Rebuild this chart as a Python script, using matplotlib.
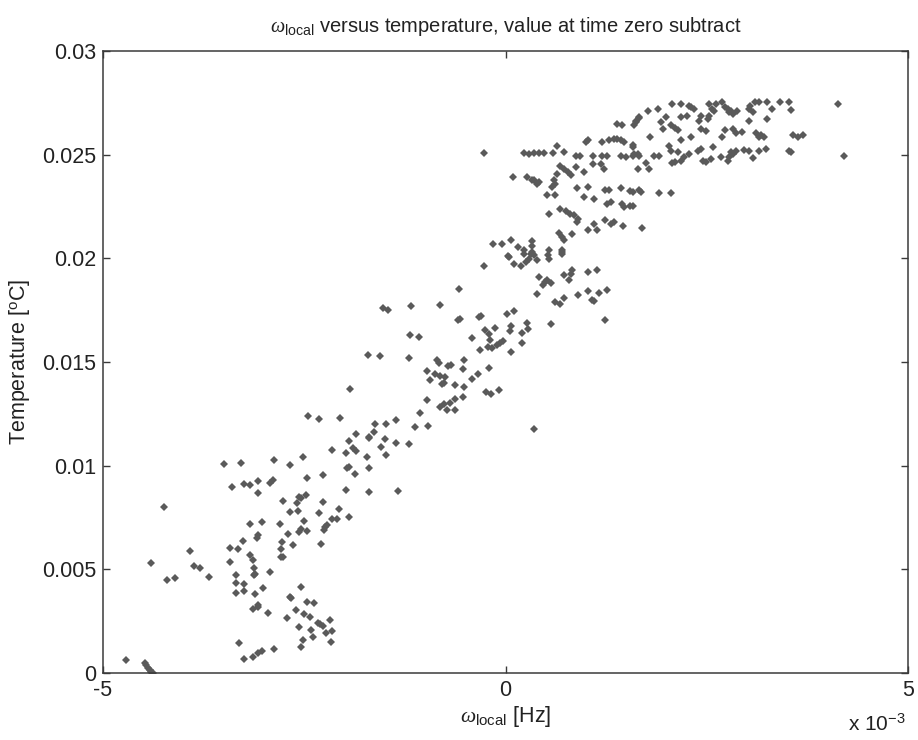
import matplotlib.pyplot as plt
from matplotlib.ticker import FuncFormatter

# values: (omega_local in 1e-3 Hz, temperature in 1e-3 degC)
low_cluster = [
    (-4.71, 0.61), (-4.48, 0.50), (-4.46, 0.38), (-4.44, 0.25), (-4.42, 0.15), (-4.40, 0.05), (-4.38, 0.0),
    (-4.24, 8.01), (-4.40, 5.29), (-4.21, 4.48), (-4.10, 4.56), (-3.92, 5.90), (-3.87, 5.16), (-3.79, 5.08),
    (-3.68, 4.64), (-3.50, 10.10), (-3.28, 10.14), (-3.40, 8.98), (-3.25, 9.11), (-3.17, 9.06), (-3.07, 9.25),
    (-3.07, 8.66), (-2.92, 9.17), (-2.89, 9.33), (-2.88, 10.27), (-2.68, 10.04), (-2.47, 9.43), (-2.27, 9.56),
    (-1.97, 9.87), (-1.95, 9.92), (-1.87, 9.62), (-1.70, 8.74), (-1.98, 8.85), (-2.76, 8.30), (-2.59, 8.21),
    (-2.57, 8.47), (-2.54, 8.45), (-2.48, 8.58), (-2.68, 7.77), (-2.58, 7.82), (-2.27, 8.23), (-2.07, 7.90),
    (-2.32, 7.70), (-2.16, 7.41), (-2.09, 7.41), (-1.95, 7.53), (-2.50, 7.34), (-2.80, 7.21), (-3.17, 7.17),
    (-3.02, 7.29), (-3.09, 6.52), (-3.07, 6.64), (-3.42, 6.01), (-3.32, 5.96), (-3.26, 6.36), (-3.42, 5.36),
    (-3.18, 5.69), (-3.14, 5.45), (-3.12, 5.05), (-3.11, 4.80), (-3.12, 4.72), (-2.93, 4.88), (-2.79, 5.96),
    (-2.76, 5.61), (-2.79, 5.58), (-2.78, 6.33), (-2.70, 6.70), (-2.64, 6.17), (-2.56, 6.81), (-2.54, 6.97),
    (-2.47, 6.84), (-2.29, 6.22), (-2.26, 6.89), (-2.24, 7.05), (-2.22, 7.13), (-3.35, 4.72), (-3.35, 4.35),
    (-3.25, 4.29), (-3.35, 3.87), (-3.25, 3.95), (-3.11, 3.79), (-3.01, 4.08), (-3.14, 3.08), (-3.08, 3.28),
    (-3.07, 3.17), (-2.95, 2.88), (-2.68, 3.68), (-2.66, 3.60), (-2.54, 4.16), (-2.60, 3.04), (-2.71, 2.64),
    (-2.50, 2.83), (-2.43, 2.71), (-2.47, 3.44), (-2.38, 3.36), (-2.56, 2.23), (-2.42, 2.07), (-2.39, 1.75),
    (-2.51, 1.59), (-2.54, 1.27), (-2.33, 2.42), (-2.30, 2.36), (-2.27, 2.28), (-2.18, 2.55), (-2.23, 1.91),
    (-2.16, 2.02), (-2.17, 1.48), (-3.31, 1.43), (-3.25, 0.66), (-3.14, 0.79), (-3.07, 0.98), (-3.03, 1.07),
    (-2.87, 1.14), (-1.33, 8.77),
]

mid_cluster = [
    (-2.52, 10.40), (-2.45, 12.40), (-2.32, 12.24), (-2.05, 12.32), (-1.93, 13.72), (-1.71, 15.33),
    (-2.16, 10.78), (-1.98, 10.62), (-1.95, 11.18), (-1.86, 11.52), (-1.89, 10.83), (-1.86, 10.71),
    (-1.72, 10.43), (-1.70, 11.36), (-1.69, 9.87), (-1.62, 12.03), (-1.64, 11.63), (-1.69, 11.39),
    (-1.48, 11.99), (-1.36, 12.19), (-1.50, 11.31), (-1.55, 10.91), (-1.49, 10.51), (-1.36, 11.10),
    (-1.20, 11.07), (-1.13, 11.87), (-0.96, 11.92), (-1.06, 12.55), (-0.98, 13.19), (-0.81, 12.83),
    (-0.77, 13.00), (-0.73, 12.71), (-0.69, 13.03), (-0.63, 12.71), (-0.63, 13.24), (-0.53, 13.32),
    (-0.52, 13.80), (-0.63, 13.88), (-0.77, 13.99), (-0.79, 13.93), (-0.94, 14.15), (-0.88, 14.41),
    (-0.81, 14.31), (-0.75, 14.28), (-0.97, 14.55), (-0.85, 15.08), (-0.83, 14.97), (-0.72, 14.80),
    (-0.68, 14.88), (-0.53, 14.65), (-0.51, 15.08), (-0.42, 14.20), (-0.34, 14.44), (-0.20, 14.73),
    (-0.24, 13.56), (-0.18, 13.48), (-0.08, 13.67), (0.35, 11.79), (-1.20, 15.21), (-1.56, 15.28),
    (-1.19, 16.29), (-1.08, 16.21), (-1.52, 17.62), (-1.46, 17.53), (-1.17, 17.69), (-0.82, 17.73),
    (-0.58, 18.54), (-0.57, 17.09), (-0.59, 17.05), (-0.33, 17.17), (-0.30, 17.22), (-0.27, 19.63),
    (-0.42, 16.18), (-0.32, 15.57), (-0.25, 16.53), (-0.21, 16.37), (-0.19, 16.08), (-0.13, 16.66),
    (-0.22, 15.73), (-0.17, 15.68), (-0.11, 15.81), (-0.07, 15.92), (-0.03, 16.01), (0.02, 17.33),
    (0.11, 17.45), (0.07, 16.72), (0.05, 16.50), (0.07, 15.48), (0.20, 16.40), (0.20, 15.94),
    (0.27, 16.90), (0.28, 16.61), (0.56, 16.82), (0.39, 18.30), (0.41, 19.10), (0.46, 18.70),
    (0.49, 18.86), (0.52, 18.97), (0.56, 18.81), (0.61, 17.89), (0.68, 17.78), (0.73, 18.09),
    (0.73, 19.21), (0.81, 19.26), (0.83, 19.45), (0.79, 18.94), (0.90, 18.22), (1.02, 18.41),
    (1.07, 18.01), (1.10, 17.94), (1.03, 19.34), (1.13, 19.42), (1.16, 18.33), (1.26, 18.49),
    (1.24, 17.01), (0.03, 20.10), (0.10, 19.74), (0.19, 19.63), (0.25, 19.82), (0.29, 19.98),
    (0.35, 20.14), (0.39, 19.94), (0.53, 20.14), (0.70, 20.30), (0.23, 20.22), (0.33, 20.30),
]

upper_cluster = [
    (-0.27, 25.09), (0.09, 23.92), (0.23, 25.09), (0.29, 25.04), (0.35, 25.09), (0.41, 25.09), (0.48, 25.09),
    (0.59, 25.09), (0.64, 25.43), (0.73, 25.12), (0.87, 24.96), (0.93, 24.96), (1.00, 25.61), (1.02, 25.69),
    (1.09, 24.96), (1.20, 24.96), (1.26, 24.96), (1.20, 25.61), (1.29, 25.69), (1.35, 25.77), (1.39, 25.77),
    (1.43, 25.69), (1.47, 25.61), (1.58, 25.45), (1.43, 24.96), (1.49, 24.88), (1.58, 24.96), (1.64, 25.04),
    (1.39, 26.49), (1.45, 26.41), (1.62, 26.65), (1.66, 26.81), (0.27, 23.92), (0.33, 23.76), (0.39, 23.57),
    (0.35, 23.79), (0.41, 23.68), (0.64, 24.08), (0.68, 24.48), (0.73, 24.32), (0.77, 24.16), (0.81, 24.00),
    (0.60, 23.76), (0.58, 23.44), (0.62, 23.60), (0.51, 23.04), (0.61, 23.08), (0.87, 24.43), (1.09, 24.56),
    (1.19, 24.53), (0.98, 24.16), (1.22, 24.32), (0.89, 23.41), (1.03, 23.44), (1.24, 23.31), (1.29, 23.31),
    (1.44, 23.41), (1.55, 23.24), (1.66, 23.28), (0.97, 22.96), (1.10, 22.88), (1.26, 22.63), (1.31, 22.72),
    (1.45, 22.63), (1.47, 22.47), (1.55, 22.52), (0.54, 22.12), (0.68, 22.40), (0.75, 22.28), (0.80, 22.15),
    (0.85, 22.07), (0.90, 21.91), (0.89, 21.75), (1.02, 21.35), (1.10, 21.67), (1.14, 21.35), (1.24, 21.83),
    (1.31, 21.67), (1.35, 21.75), (1.46, 21.56), (0.82, 21.19), (0.67, 21.22), (0.70, 21.03), (0.73, 20.87),
    (-0.15, 20.71), (-0.04, 20.71), (0.07, 20.90), (0.33, 20.82), (0.33, 20.58), (0.15, 20.55), (0.23, 20.39),
    (0.31, 20.22), (0.54, 20.39), (0.54, 19.98), (0.70, 20.42), (0.70, 20.22), (0.04, 20.06),
]

top_right_cluster = [
    (4.13, 27.46), (4.21, 24.92), (3.52, 27.53), (3.54, 27.17), (3.52, 25.20), (3.54, 25.12), (3.57, 25.93),
    (3.63, 25.85), (3.69, 25.93), (3.41, 27.53), (3.25, 27.53), (3.31, 27.21), (3.15, 27.53), (3.10, 27.53),
    (3.04, 27.37), (3.02, 27.21), (3.07, 27.05), (3.25, 26.73), (3.02, 26.65), (3.11, 26.04), (3.17, 25.93),
    (3.21, 25.85), (3.15, 25.85), (3.23, 25.28), (3.15, 25.17), (3.07, 24.85), (3.02, 25.20), (2.96, 25.24),
    (2.94, 26.09), (2.86, 26.04), (2.82, 26.25), (2.72, 26.17), (2.69, 25.85), (2.80, 27.13), (2.78, 27.05),
    (2.76, 27.21), (2.82, 26.97), (2.72, 27.29), (2.69, 27.53), (2.61, 27.45), (2.57, 27.21), (2.59, 27.13),
    (2.53, 27.45), (2.88, 27.13), (2.51, 26.73), (2.53, 26.89), (2.40, 26.65), (2.43, 26.89), (2.43, 26.25),
    (2.49, 26.13), (2.30, 27.29), (2.28, 27.37), (2.34, 27.21), (2.26, 26.89), (2.18, 26.81), (2.18, 27.45),
    (2.07, 27.45), (2.30, 25.85), (2.18, 25.69), (2.03, 25.40), (2.05, 25.20), (2.14, 25.12), (2.05, 26.41),
    (2.10, 26.30), (2.14, 26.17), (1.95, 26.25), (1.93, 26.57), (1.99, 26.84), (1.77, 27.13), (1.89, 27.21),
    (1.66, 26.78), (1.62, 26.57), (1.60, 26.41), (1.80, 25.85), (1.58, 25.37), (1.60, 25.04), (1.66, 24.96),
    (1.84, 24.92), (1.91, 24.92), (1.74, 24.59), (1.78, 24.32), (1.65, 24.29), (2.07, 24.59), (2.11, 24.64),
    (2.18, 24.68), (2.22, 24.88), (2.28, 25.04), (2.43, 25.28), (2.39, 25.20), (2.45, 24.72), (2.49, 24.64),
    (2.55, 24.80), (2.58, 25.37), (2.67, 24.88), (2.76, 24.72), (2.78, 24.88), (2.82, 25.04), (2.80, 25.12),
    (2.86, 25.20), (1.58, 23.19), (1.68, 23.19), (1.91, 23.15), (2.06, 23.15), (1.58, 22.51), (1.70, 21.48),
]

x_ticks = [-5e-3, 0, 5e-3]
y_ticks = [0, 0.005, 0.01, 0.015, 0.02, 0.025, 0.03]
y_tick_labels = ['0', '0.005', '0.01', '0.015', '0.02', '0.025', '0.03']

points = low_cluster + mid_cluster + upper_cluster + top_right_cluster
omega = [p[0] * 1e-3 for p in points]
temp = [p[1] * 1e-3 for p in points]

plt.rcParams['font.family'] = ['Liberation Sans', 'DejaVu Sans']
plt.rcParams['mathtext.fontset'] = 'custom'
plt.rcParams['mathtext.rm'] = 'Liberation Sans'
plt.rcParams['mathtext.it'] = 'Liberation Serif:italic'

grey = '#3a3a3a'
txt = '#222222'
fig = plt.figure(figsize=(9.18, 7.40), dpi=100)
ax = fig.add_axes([0.1122, 0.0905, 0.877, 0.8405])
ax.plot(omega, temp, linestyle='none', marker='D', markersize=3.8,
        color='#5a5a5a', markeredgewidth=0)

ax.set_xlim(-5e-3, 5e-3)
ax.set_ylim(0, 0.03)
ax.set_xticks(x_ticks)
ax.xaxis.set_major_formatter(FuncFormatter(lambda v, p: f'{v * 1e3:g}'))
ax.set_yticks(y_ticks)
ax.set_yticklabels(y_tick_labels)
ax.tick_params(direction='in', top=True, right=True, length=5, width=1,
               color=grey, labelsize=15.5, labelcolor=txt, pad=5)
for s in ax.spines.values():
    s.set_color(grey)
    s.set_linewidth(1.1)

ax.set_title(r'$\omega_{\mathrm{local}}$ versus temperature, value at time zero subtract',
             fontsize=14.5, color=txt, pad=14)
ax.set_xlabel(r'$\omega_{\mathrm{local}}$ [Hz]', fontsize=15.5, color=txt, labelpad=2)
ax.set_ylabel(r'Temperature [$^{\mathrm{o}}$C]', fontsize=15.5, color=txt, labelpad=7)
ax.text(0.997, -0.082, r'x 10$^{-3}$', transform=ax.transAxes, ha='right', va='center',
        fontsize=15, color=txt)

fig.savefig('out.png', dpi=100)
